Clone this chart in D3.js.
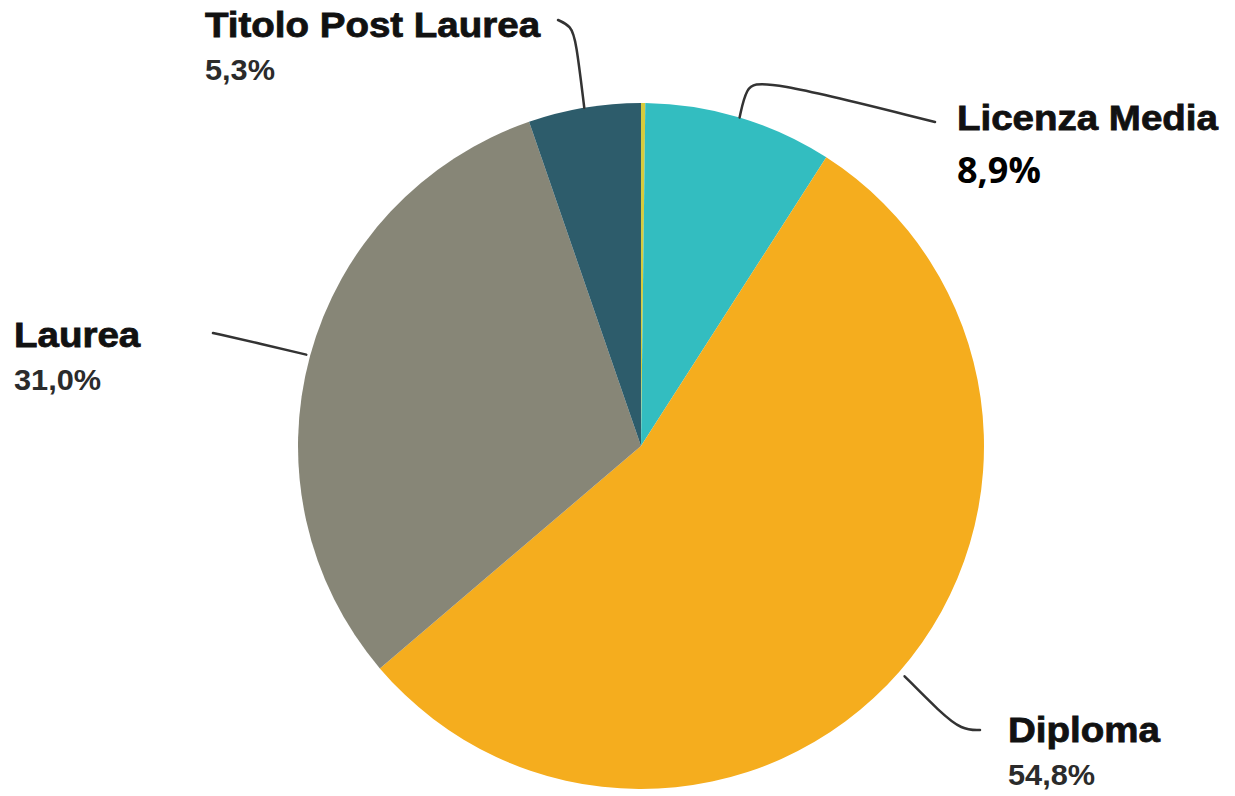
<!DOCTYPE html>
<html>
<head>
<meta charset="utf-8">
<script src="https://cdn.jsdelivr.net/npm/d3@7"></script>
<style>
  body { margin: 0; background: #fff; }
  svg { display: block; }
</style>
</head>
<body>
<script>
// data (clockwise from 12 o'clock)
let categories = ['Altro', 'Licenza Media', 'Diploma', 'Laurea', 'Titolo Post Laurea']
let values = [0.2, 8.9, 54.8, 31.0, 5.3]
let valueLabels = ['', '8,9%', '54,8%', '31,0%', '5,3%']
let colors = ['#d6cb3c', '#33bdc0', '#f5ad1e', '#878677', '#2d5c6b']

let dataset = categories.map((c, i) => ({ name: c, value: values[i], label: valueLabels[i], color: colors[i] }))

var width = 1235, height = 796
var cx = 641, cy = 446, radius = 343

var svg = d3.select('body').append('svg')
    .attr('width', width)
    .attr('height', height)

var g = svg.append('g')
    .attr('transform', 'translate(' + cx + ',' + cy + ')')

var pie = d3.pie()
    .sort(null)
    .value(d => d.value)

var arc = d3.arc()
    .innerRadius(0)
    .outerRadius(radius)

var arcs = pie(dataset)

g.selectAll('path.slice')
    .data(arcs)
    .enter()
    .append('path')
    .attr('class', 'slice')
    .attr('d', arc)
    .attr('fill', d => d.data.color)

// label layout (screen positions of the text and leader bends)
let labelLayout = {
    'Titolo Post Laurea': { x: 205, y: 37, y2: 80, bends: [[576, 40], [571, 26], [558, 20]], r: 343, pctFont: 'arial' },
    'Licenza Media':      { x: 957, y: 130, y2: 183, bends: [[746, 88], [760, 78], [935, 122]], r: 343, pctFont: 'calibri' },
    'Laurea':             { x: 14, y: 347, y2: 390, bends: [[262, 344], [213, 333]], r: 347, pctFont: 'arial' },
    'Diploma':            { x: 1008, y: 742, y2: 785, bends: [[940, 712], [962, 730], [980, 730]], r: 350, pctFont: 'arial' }
}

var leader = d3.line().curve(d3.curveBasis)

arcs.forEach(function (d) {
    let lay = labelLayout[d.data.name]
    if (!lay) return
    let mid = (d.startAngle + d.endAngle) / 2
    let start = [cx + lay.r * Math.sin(mid), cy - lay.r * Math.cos(mid)]
    let pts = [start].concat(lay.bends)
    svg.append('path')
        .attr('d', leader(pts))
        .attr('fill', 'none')
        .attr('stroke', '#333')
        .attr('stroke-width', 2.5)
        .attr('stroke-linecap', 'round')

    svg.append('text')
        .attr('x', lay.x)
        .attr('y', lay.y)
        .attr('font-family', 'Liberation Sans, Arial, sans-serif')
        .attr('font-weight', 'bold')
        .attr('font-size', 35)
        .attr('fill', '#111')
        .attr('stroke', '#111')
        .attr('stroke-width', 0.8)
        .attr('transform', 'translate(' + lay.x + ',0) scale(1.1,1) translate(' + (-lay.x) + ',0)')
        .text(d.data.name)

    let pct = svg.append('text')
        .attr('x', lay.x)
        .attr('y', lay.y2)
        .text(d.data.label)
    if (lay.pctFont == 'calibri') {
        pct.attr('font-family', 'Open Sans, sans-serif')
            .attr('font-weight', 'bold')
            .attr('font-size', 36)
            .attr('fill', '#000')
    } else {
        pct.attr('font-family', 'Liberation Sans, Arial, sans-serif')
            .attr('font-weight', 'bold')
            .attr('font-size', 29)
            .attr('fill', '#2b2b2b')
            .attr('transform', 'translate(' + lay.x + ',0) scale(1.06,1) translate(' + (-lay.x) + ',0)')
    }
})
</script>
</body>
</html>
